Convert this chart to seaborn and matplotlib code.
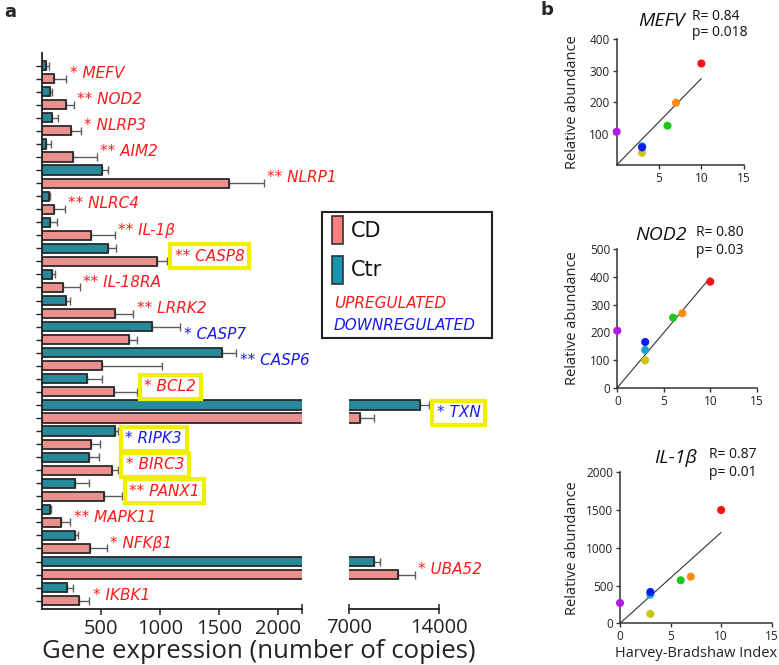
import numpy as np
import pandas as pd
import matplotlib
matplotlib.use("Agg")
import matplotlib.pyplot as plt
import seaborn as sns
from matplotlib.patches import Rectangle

# ---------------- data ----------------
genes = ["MEFV", "NOD2", "NLRP3", "AIM2", "NLRP1", "NLRC4", "IL-1β", "CASP8",
         "IL-18RA", "LRRK2", "CASP7", "CASP6", "BCL2", "TXN", "RIPK3", "BIRC3",
         "PANX1", "MAPK11", "NFKβ1", "UBA52", "IKBK1"]
stars = ["*", "**", "*", "**", "**", "**", "**", "**", "**", "**", "*", "**",
         "*", "*", "*", "*", "**", "**", "*", "*", "*"]
regulation = ["up", "up", "up", "up", "up", "up", "up", "up", "up", "up", "down",
              "down", "up", "down", "down", "up", "up", "up", "up", "up", "up"]
highlight = ["CASP8", "BCL2", "TXN", "RIPK3", "BIRC3", "PANX1"]

ctr_mean = [31, 65, 82, 34, 503, 54, 68, 559, 82, 198, 929, 1520, 376, 12490,
            616, 396, 277, 68, 274, 8930, 207]
ctr_err = [26, 20, 54, 40, 56, 11, 54, 65, 26, 37, 240, 123, 132, 750,
           24, 82, 121, 6, 31, 490, 56]
cd_mean = [102, 203, 240, 257, 1584, 102, 412, 969, 178, 616, 732, 508, 610, 7880,
           410, 588, 520, 156, 401, 10800, 308]
cd_err = [101, 65, 85, 204, 294, 90, 204, 90, 141, 155, 73, 508, 189, 1070,
          79, 56, 152, 81, 144, 1300, 90]

# panel b (patients ordered: purple, cyan, yellow, blue, green, orange, red)
patients = ["P1", "P2", "P3", "P4", "P5", "P6", "P7"]
patient_colors = ["#B31BE8", "#1CA3CC", "#C9C51A", "#0B1CF2", "#1DC71D", "#FF8A14", "#FF1010"]
hbi = [0, 3, 3, 3, 6, 7, 10]
mefv_abund = [106, 60, 39, 56, 125, 198, 323]
nod2_abund = [206, 136, 99, 165, 253, 269, 383]
il1b_abund = [269, 380, 124, 415, 570, 618, 1501]
stats_R = ["0.84", "0.80", "0.87"]
stats_p = ["0.018", "0.03", "0.01"]

# ---------------- style ----------------
sns.set_theme(style="ticks")
plt.rcParams['font.family'] = ['Open Sans', 'DejaVu Sans']

W, H = 779, 665
fig = plt.figure(figsize=(W / 100, H / 100), dpi=100)


def fx(x):
    return x / W


def fy(y):
    return 1 - y / H


def rect(l, t, r, b):
    return [l / W, 1 - b / H, (r - l) / W, (b - t) / H]


TEAL = "#1596AE"
PINK = "#FA8080"
RED = "#FF1A1A"
BLUE = "#1A1AF0"

rows = []
for i, g in enumerate(genes):
    rows.append((f"{g} Ctr", "Ctr", ctr_mean[i], ctr_err[i]))
    rows.append((f"{g} CD", "CD", cd_mean[i], cd_err[i]))
df = pd.DataFrame(rows, columns=["row", "group", "value", "err"])
pos = np.arange(len(df))

ax1 = fig.add_axes(rect(42.3, 53, 302, 609.3))
ax2 = fig.add_axes(rect(349, 53, 439, 609.3))
for ax in (ax1, ax2):
    sns.barplot(data=df, y="row", x="value", hue="group",
                palette={"Ctr": TEAL, "CD": PINK}, dodge=False, orient="h",
                width=0.7, edgecolor="#2a2a2a", linewidth=1.3, legend=False,
                errorbar=None, ax=ax)
    ax.errorbar(df["value"], pos, xerr=[np.zeros(len(df)), df["err"]], fmt="none",
                ecolor="#5c5c5c", elinewidth=1.0, capsize=3, capthick=1.0, zorder=0.5)
    ax.set_ylim(len(df) - 1 + 0.66, -0.97)
    ax.set_xlabel("")
    ax.set_ylabel("")
    ax.spines["top"].set_visible(False)
    ax.spines["right"].set_visible(False)
    for s in ax.spines.values():
        s.set_linewidth(1.3)
        s.set_color("#222222")
    ax.tick_params(axis="x", labelsize=14.5, length=4, width=1.1, color="#222222",
                   labelcolor="#222222", pad=3)

ax1.set_xlim(0, 2200)
ax1.set_xticks([500, 1000, 1500, 2000])
ax1.set_xticks([2200], minor=True)
ax1.tick_params(axis="x", which="minor", direction="inout", length=7, width=1.1)
ax1.set_yticks(pos)
ax1.set_yticklabels([""] * len(pos))
ax1.tick_params(axis="y", length=4, width=1.0, color="#222222")

ax2.set_xlim(7000, 14000)
ax2.set_xticks([7000, 14000])
ax2.tick_params(axis="x", direction="inout", length=7)
ax2.spines["left"].set_visible(False)
ax2.set_yticks([])

# gene labels
for i, g in enumerate(genes):
    x_end = max(ctr_mean[i] + ctr_err[i], cd_mean[i] + cd_err[i])
    target = ax2 if x_end > 2200 else ax1
    color = RED if regulation[i] == "up" else BLUE
    boxed = g in highlight
    kw = {}
    if boxed:
        kw["bbox"] = dict(boxstyle="square,pad=0.3", fc="white", ec="#F2EE00", lw=3)
    target.annotate(f"{stars[i]} {g}", xy=(x_end, 2 * i + 0.6),
                    xytext=(5.5 if boxed else 2.5, 0), textcoords="offset points",
                    ha="left", va="center", color=color, fontsize=11, style="italic",
                    family="DejaVu Sans", annotation_clip=False, zorder=5, **kw)

fig.text(fx(259), fy(652), "Gene expression (number of copies)", ha="center",
         va="center", fontsize=18.5, color="#222222")

# legend (manual)
fig.add_artist(Rectangle((fx(321.7), fy(337.7)), (491.7 - 321.7) / W, (337.7 - 212.3) / H,
                         transform=fig.transFigure, fill=False, ec="#222222", lw=1.5))
fig.add_artist(Rectangle((fx(331.7), fy(244)), 11 / W, 28 / H, transform=fig.transFigure,
                         fc=PINK, ec="#333333", lw=1.2))
fig.add_artist(Rectangle((fx(331.7), fy(284)), 11 / W, 28 / H, transform=fig.transFigure,
                         fc=TEAL, ec="#333333", lw=1.2))
fig.text(fx(351), fy(231), "CD", fontsize=15, va="center", ha="left",
         family="DejaVu Sans", color="#111111")
fig.text(fx(351), fy(270), "Ctr", fontsize=15, va="center", ha="left",
         family="DejaVu Sans", color="#111111")
fig.text(fx(334), fy(304), "UPREGULATED", fontsize=11, va="center", ha="left",
         family="DejaVu Sans", style="italic", color=RED)
fig.text(fx(334), fy(325), "DOWNREGULATED", fontsize=11, va="center", ha="left",
         family="DejaVu Sans", style="italic", color=BLUE)

fig.text(fx(4), fy(12), "a", fontsize=13, fontweight="bold", va="center", ha="left",
         family="DejaVu Sans")
fig.text(fx(541), fy(10), "b", fontsize=13, fontweight="bold", va="center", ha="left",
         family="DejaVu Sans")

# ---------------- panel b ----------------
panels = [
    ("MEFV", mefv_abund, rect(616.7, 39.3, 743.7, 165), 400, [100, 200, 300, 400], [5, 10, 15],
     (685, 21), (692, 16), (692, 33), False),
    ("NOD2", nod2_abund, rect(617.3, 249.3, 756.7, 387.7), 500, [0, 100, 200, 300, 400, 500],
     [0, 5, 10, 15], (687, 234.5), (696, 232), (696, 250), False),
    ("IL-1β", il1b_abund, rect(620, 472.3, 771.7, 623.3), 2000, [0, 500, 1000, 1500, 2000],
     [0, 5, 10, 15], (697, 458), (709, 455), (709, 473), True),
]
for k, (name, abund, r, ymax, yt, xt, tpos, rpos, ppos, xlab) in enumerate(panels):
    ax = fig.add_axes(r)
    dfp = pd.DataFrame({"hbi": hbi, "abund": abund, "patient": patients})
    xs = np.array(hbi, dtype=float)
    ys = np.array(abund, dtype=float)
    slope = np.sum(xs * ys) / np.sum(xs * xs)
    ax.plot([0, xs.max()], [0, slope * xs.max()], color="#333333", lw=0.8, zorder=1)
    sns.scatterplot(data=dfp, x="hbi", y="abund", hue="patient", palette=patient_colors,
                    s=34, edgecolor="none", legend=False, ax=ax, clip_on=False, zorder=3)
    ax.set_xlim(0, 15)
    ax.set_ylim(0, ymax)
    ax.set_xticks(xt)
    ax.set_yticks(yt)
    ax.spines["top"].set_visible(False)
    ax.spines["right"].set_visible(False)
    for s in ax.spines.values():
        s.set_linewidth(1.1)
        s.set_color("#333333")
    ax.tick_params(labelsize=8.5, length=3, width=1.0, color="#333333",
                   labelcolor="#222222", pad=2)
    ax.set_xlabel("Harvey-Bradshaw Index" if xlab else "", fontsize=10.5, color="#222222",
                  labelpad=2)
    ax.set_ylabel("Relative abundance", fontsize=10.5, color="#222222")
    ax.yaxis.set_label_coords(fx(580), (r[1] + r[3] / 2), transform=fig.transFigure)
    fig.text(fx(tpos[0]), fy(tpos[1]), name, fontsize=14, style="italic", ha="right",
             va="center", color="#111111")
    fig.text(fx(rpos[0]), fy(rpos[1]), f"R= {stats_R[k]}", fontsize=10, ha="left",
             va="center", color="#111111")
    fig.text(fx(ppos[0]), fy(ppos[1]), f"p= {stats_p[k]}", fontsize=10, ha="left",
             va="center", color="#111111")

fig.savefig("out.png", dpi=100)
